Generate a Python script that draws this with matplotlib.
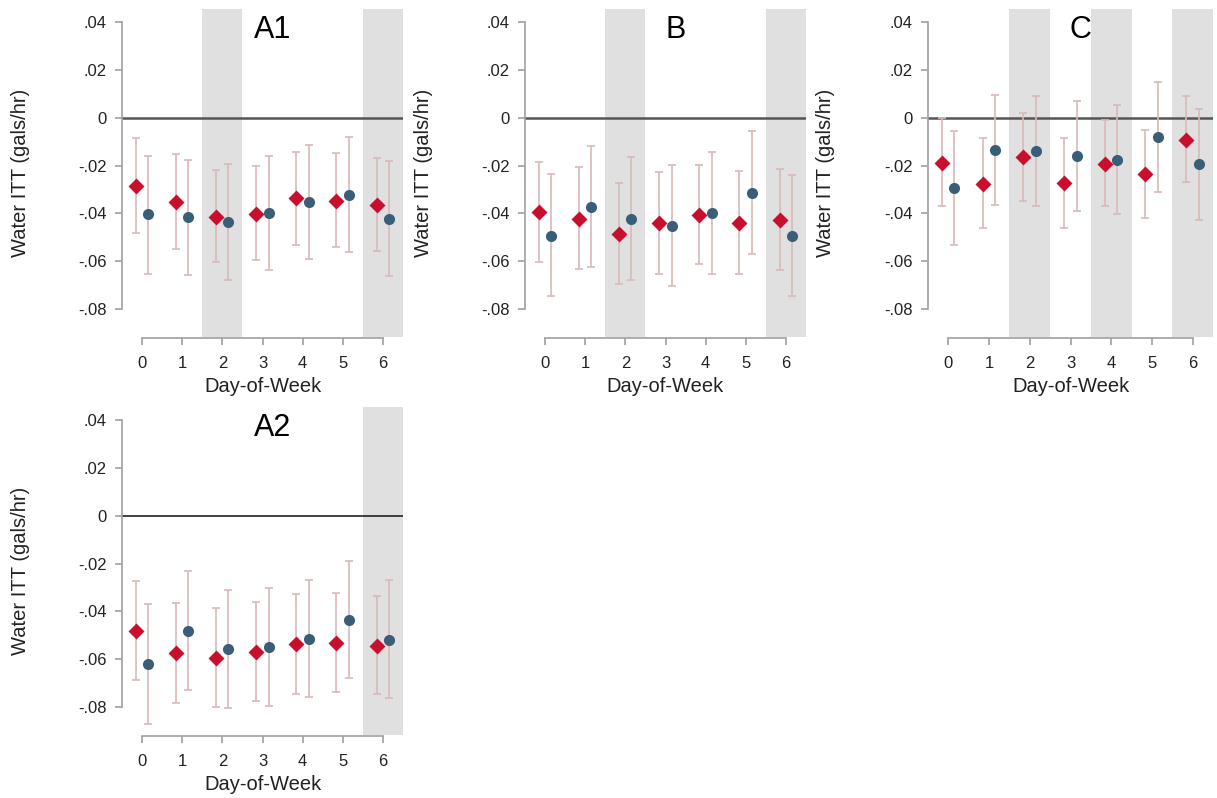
import matplotlib.pyplot as plt
import numpy as np

plt.rcParams["font.family"] = ["Liberation Sans", "DejaVu Sans"]

days = [0, 1, 2, 3, 4, 5, 6]
panel_names = ["A1", "B", "C", "A2"]

# red diamonds: point estimate, upper CI, lower CI
a1_red = [-0.0286, -0.0353, -0.0413, -0.0401, -0.0337, -0.0347, -0.0365]
a1_red_hi = [-0.0084, -0.0150, -0.0219, -0.0200, -0.0144, -0.0149, -0.0170]
a1_red_lo = [-0.0482, -0.0550, -0.0605, -0.0596, -0.0531, -0.0540, -0.0556]
a1_blue = [-0.0404, -0.0417, -0.0435, -0.0399, -0.0354, -0.0322, -0.0424]
a1_blue_hi = [-0.0159, -0.0176, -0.0192, -0.0159, -0.0113, -0.0081, -0.0181]
a1_blue_lo = [-0.0652, -0.0659, -0.0680, -0.0638, -0.0590, -0.0560, -0.0663]

b_red = [-0.0396, -0.0422, -0.0485, -0.0442, -0.0406, -0.0440, -0.0428]
b_red_hi = [-0.0187, -0.0205, -0.0272, -0.0227, -0.0197, -0.0224, -0.0215]
b_red_lo = [-0.0605, -0.0634, -0.0695, -0.0652, -0.0613, -0.0652, -0.0636]
b_blue = [-0.0493, -0.0374, -0.0422, -0.0453, -0.0400, -0.0315, -0.0495]
b_blue_hi = [-0.0237, -0.0118, -0.0164, -0.0197, -0.0144, -0.0057, -0.0238]
b_blue_lo = [-0.0746, -0.0626, -0.0677, -0.0705, -0.0655, -0.0571, -0.0746]

c_red = [-0.0188, -0.0275, -0.0164, -0.0273, -0.0192, -0.0237, -0.0091]
c_red_hi = [-0.0003, -0.0085, 0.0018, -0.0084, -0.0008, -0.0053, 0.0089]
c_red_lo = [-0.0368, -0.0459, -0.0347, -0.0459, -0.0371, -0.0420, -0.0268]
c_blue = [-0.0294, -0.0134, -0.0139, -0.0160, -0.0176, -0.0082, -0.0195]
c_blue_hi = [-0.0056, 0.0096, 0.0091, 0.0071, 0.0054, 0.0149, 0.0038]
c_blue_lo = [-0.0531, -0.0364, -0.0368, -0.0392, -0.0404, -0.0311, -0.0426]

a2_red = [-0.0480, -0.0575, -0.0596, -0.0570, -0.0537, -0.0532, -0.0544]
a2_red_hi = [-0.0274, -0.0366, -0.0387, -0.0362, -0.0328, -0.0322, -0.0336]
a2_red_lo = [-0.0685, -0.0782, -0.0801, -0.0775, -0.0744, -0.0738, -0.0747]
a2_blue = [-0.0618, -0.0480, -0.0558, -0.0549, -0.0515, -0.0436, -0.0518]
a2_blue_hi = [-0.0367, -0.0232, -0.0311, -0.0302, -0.0269, -0.0190, -0.0269]
a2_blue_lo = [-0.0870, -0.0727, -0.0806, -0.0794, -0.0758, -0.0677, -0.0764]

# shaded days per panel
shaded = {"A1": [2, 6], "B": [2, 6], "C": [2, 4, 6], "A2": [6]}

panels = {
	"A1": (a1_red, a1_red_hi, a1_red_lo, a1_blue, a1_blue_hi, a1_blue_lo),
	"B": (b_red, b_red_hi, b_red_lo, b_blue, b_blue_hi, b_blue_lo),
	"C": (c_red, c_red_hi, c_red_lo, c_blue, c_blue_hi, c_blue_lo),
	"A2": (a2_red, a2_red_hi, a2_red_lo, a2_blue, a2_blue_hi, a2_blue_lo),
}

W, H = 1217, 798
# axes boxes in pixels: left, top, right, bottom
boxes = {
	"A1": (122, 9, 403, 337),
	"B": (525, 9, 806, 337),
	"C": (928, 9, 1213, 337),
	"A2": (122, 407, 403, 735),
}

red = "#C8102E"
blue = "#3A5E78"
ci_col = "#D9B9B9"
shade = "#E0E0E0"
spine_col = "#A0A0A0"
text_col = "#222222"

fig = plt.figure(figsize=(W / 100, H / 100), dpi=100)

for name in panel_names:
	l, t, r, b = boxes[name]
	ax = fig.add_axes([l / W, 1 - b / H, (r - l) / W, (b - t) / H])
	red_v, red_hi, red_lo, blue_v, blue_hi, blue_lo = panels[name]
	x = np.array(days)

	for d in shaded[name]:
		ax.axvspan(d - 0.5, d + 0.5, color=shade, lw=0, zorder=0)

	ax.axhline(0, color="#555555" if name != "A2" else "#222222",
			   lw=1.8 if name != "A2" else 1.2, zorder=1)

	ax.errorbar(x - 0.16, red_v, yerr=[np.array(red_v) - np.array(red_lo), np.array(red_hi) - np.array(red_v)],
				fmt="none", ecolor=ci_col, elinewidth=1.2, capsize=3, capthick=1.2, zorder=2)
	ax.errorbar(x + 0.15, blue_v, yerr=[np.array(blue_v) - np.array(blue_lo), np.array(blue_hi) - np.array(blue_v)],
				fmt="none", ecolor=ci_col, elinewidth=1.2, capsize=3, capthick=1.2, zorder=2)
	ax.plot(x - 0.16, red_v, "D", color=red, ms=8.5, mec="none", zorder=3)
	ax.plot(x + 0.15, blue_v, "o", color=blue, ms=8, mec="none", zorder=3)

	ax.set_xlim(-0.5, 6.5)
	ax.set_ylim(-0.0917, 0.0455)

	yt = [-0.08, -0.06, -0.04, -0.02, 0, 0.02, 0.04]
	ax.set_yticks(yt)
	ax.set_yticklabels(["-.08", "-.06", "-.04", "-.02", "0", ".02", ".04"])
	ax.set_xticks(days)
	ax.tick_params(colors=spine_col, labelcolor=text_col, labelsize=12, length=5, width=1.2)
	ax.tick_params(axis="y", pad=6)
	ax.tick_params(axis="x", pad=8)

	for s in ["top", "right"]:
		ax.spines[s].set_visible(False)
	ax.spines["left"].set_bounds(-0.08, 0.04)
	ax.spines["bottom"].set_bounds(0, 6)
	ax.spines["bottom"].set_position(("outward", 1))
	for s in ["left", "bottom"]:
		ax.spines[s].set_color(spine_col)
		ax.spines[s].set_linewidth(1.2)

	ax.set_ylabel("Water ITT (gals/hr)", fontsize=14.5, color=text_col)
	ax.yaxis.set_label_coords(-0.327, 0.5)
	ax.set_xlabel("Day-of-Week", fontsize=14.5, color=text_col, labelpad=4)
	ax.text(3.25, 0.0368, name, fontsize=22, ha="center", va="center", color="black")
	ax.patch.set_visible(False)

plt.savefig("out.png", dpi=100)
